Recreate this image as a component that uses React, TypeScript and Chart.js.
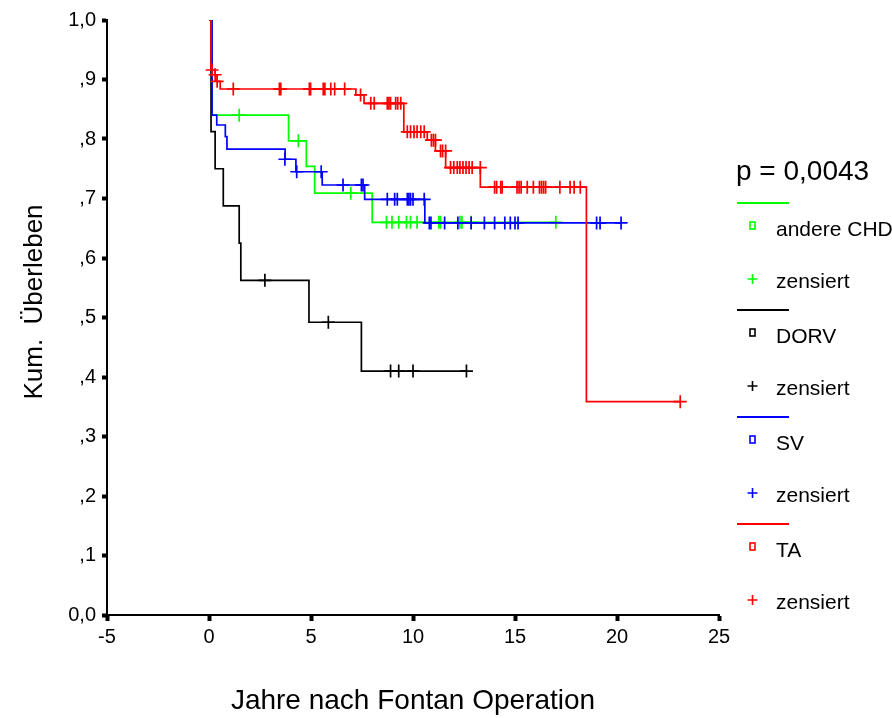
import React, { useEffect, useRef } from 'react';
import { Chart, registerables } from 'chart.js';

Chart.register(...registerables);

const FONT = 'Arial, "Liberation Sans", Helvetica, sans-serif';

// Axis ticks
const xMin = -5;
const xMax = 25;
const xStep = 5;
const yTickLabels = ['0,0', ',1', ',2', ',3', ',4', ',5', ',6', ',7', ',8', ',9', '1,0'];

// Legend / titles
const groupNames = ['andere CHD', 'DORV', 'SV', 'TA'];
const groupColors = ['#00ff00', '#000000', '#0000ff', '#ff0000'];
const censorLabel = 'zensiert';
const pValueText = 'p = 0,0043';
const xTitle = 'Jahre nach Fontan Operation';
const yTitle = 'Kum.  Überleben';

// andere CHD (green)
const chdTimes = [0, 0.15, 3.9, 4.77, 5.18, 8.0, 17.0];
const chdSurvival = [1.0, 0.84, 0.797, 0.754, 0.709, 0.66, 0.66];
const chdCensorTimes = [1.48, 4.38, 6.95, 8.7, 8.97, 9.3, 9.68, 9.88, 10.2, 11.27, 11.35, 12.3, 12.4, 12.85, 17.0];
const chdCensorSurvival = [0.84, 0.797, 0.709, 0.66, 0.66, 0.66, 0.66, 0.66, 0.66, 0.66, 0.66, 0.66, 0.66, 0.66, 0.66];

// DORV (black)
const dorvTimes = [0, 0.1, 0.3, 0.7, 1.48, 1.56, 4.9, 7.47, 12.62];
const dorvSurvival = [1.0, 0.8125, 0.75, 0.6875, 0.625, 0.5625, 0.492, 0.41, 0.41];
const dorvCensorTimes = [2.74, 5.85, 8.9, 9.3, 10.0, 12.62];
const dorvCensorSurvival = [0.5625, 0.492, 0.41, 0.41, 0.41, 0.41];

// SV (blue)
const svTimes = [0, 0.15, 0.38, 0.8, 0.88, 3.73, 4.26, 5.55, 7.63, 10.58, 20.2];
const svSurvival = [1.0, 0.84, 0.8235, 0.804, 0.783, 0.766, 0.745, 0.7227, 0.6986, 0.659, 0.659];
const svCensorTimes = [3.72, 4.3, 5.5, 6.57, 7.47, 7.55, 8.74, 9.1, 9.23, 9.72, 9.8, 9.88, 10.0, 10.55, 10.8, 10.88, 11.55, 12.2, 12.85, 13.5, 14.0, 14.5, 14.77, 15.0, 15.15, 19.0, 19.17, 20.2];
const svCensorSurvival = [0.766, 0.745, 0.745, 0.7227, 0.7227, 0.7227, 0.6986, 0.6986, 0.6986, 0.6986, 0.6986, 0.6986, 0.6986, 0.6986, 0.659, 0.659, 0.659, 0.659, 0.659, 0.659, 0.659, 0.659, 0.659, 0.659, 0.659, 0.659, 0.659, 0.659];

// TA (red)
const taTimes = [0, 0.1, 0.3, 0.4, 0.55, 7.2, 7.6, 9.55, 10.7, 11.1, 11.6, 13.3, 18.5, 23.1];
const taSurvival = [1.0, 0.916, 0.908, 0.897, 0.884, 0.874, 0.86, 0.812, 0.798, 0.78, 0.752, 0.719, 0.3585, 0.3585];
const taCensorTimes = [0.15, 0.3, 0.4, 1.19, 3.45, 3.52, 4.92, 4.98, 5.6, 5.68, 5.97, 6.16, 6.65, 7.43, 7.93, 8.1, 8.74, 8.82, 8.9, 9.15, 9.25, 9.4, 9.72, 9.88, 10.05, 10.2, 10.38, 10.55, 10.9, 11.0, 11.1, 11.35, 11.45, 11.6, 11.84, 12.0, 12.17, 12.3, 12.45, 12.6, 12.75, 12.9, 13.3, 14.0, 14.1, 14.3, 14.37, 15.1, 15.2, 15.3, 15.6, 15.9, 16.2, 16.3, 16.4, 16.5, 17.2, 17.7, 17.9, 18.2, 23.1];
const taCensorSurvival = [0.916, 0.908, 0.897, 0.884, 0.884, 0.884, 0.884, 0.884, 0.884, 0.884, 0.884, 0.884, 0.884, 0.874, 0.86, 0.86, 0.86, 0.86, 0.86, 0.86, 0.86, 0.86, 0.812, 0.812, 0.812, 0.812, 0.812, 0.812, 0.798, 0.798, 0.798, 0.78, 0.78, 0.78, 0.752, 0.752, 0.752, 0.752, 0.752, 0.752, 0.752, 0.752, 0.752, 0.719, 0.719, 0.719, 0.719, 0.719, 0.719, 0.719, 0.719, 0.719, 0.719, 0.719, 0.719, 0.719, 0.719, 0.719, 0.719, 0.719, 0.3585];

const toPoints = (xs: number[], ys: number[]) => xs.map((x, i) => ({ x, y: ys[i] }));

const seriesTimes = [chdTimes, dorvTimes, svTimes, taTimes];
const seriesSurvival = [chdSurvival, dorvSurvival, svSurvival, taSurvival];
const seriesCensorTimes = [chdCensorTimes, dorvCensorTimes, svCensorTimes, taCensorTimes];
const seriesCensorSurvival = [chdCensorSurvival, dorvCensorSurvival, svCensorSurvival, taCensorSurvival];
const drawOrder = [4, 3, 2, 1];

const kmDecorPlugin = {
  id: 'kmDecor',
  afterDraw(chart: any) {
    const ctx = chart.ctx as CanvasRenderingContext2D;
    ctx.save();
    // y axis title
    ctx.fillStyle = '#000';
    ctx.font = `26px ${FONT}`;
    ctx.textAlign = 'center';
    ctx.textBaseline = 'alphabetic';
    ctx.translate(42, 302);
    ctx.rotate(-Math.PI / 2);
    ctx.fillText(yTitle, 0, 0);
    ctx.restore();

    ctx.save();
    ctx.fillStyle = '#000';
    ctx.textAlign = 'left';
    ctx.font = `28px ${FONT}`;
    ctx.textBaseline = 'alphabetic';
    ctx.fillText(pValueText, 736, 180);
    groupNames.forEach((name, i) => {
      const y0 = 203 + i * 107;
      const c = groupColors[i];
      ctx.strokeStyle = c;
      ctx.lineWidth = 2;
      ctx.beginPath();
      ctx.moveTo(737, y0);
      ctx.lineTo(789, y0);
      ctx.stroke();
      ctx.lineWidth = 1.6;
      ctx.strokeRect(750, y0 + 19, 5, 7);
      ctx.beginPath();
      ctx.moveTo(752.5, y0 + 71);
      ctx.lineTo(752.5, y0 + 81);
      ctx.moveTo(747.5, y0 + 76);
      ctx.lineTo(757.5, y0 + 76);
      ctx.stroke();
      ctx.fillStyle = '#000';
      ctx.font = `21px ${FONT}`;
      ctx.textBaseline = 'middle';
      ctx.fillText(name, 776, y0 + 27);
      ctx.fillText(censorLabel, 776, y0 + 79);
    });
    ctx.restore();
  },
};

export default function App() {
  const canvasRef = useRef<HTMLCanvasElement | null>(null);

  useEffect(() => {
    if (!canvasRef.current) return;
    const datasets: any[] = [];
    groupNames.forEach((name, i) => {
      datasets.push({
        label: name,
        data: toPoints(seriesTimes[i], seriesSurvival[i]),
        showLine: true,
        stepped: 'before',
        borderColor: groupColors[i],
        backgroundColor: groupColors[i],
        borderWidth: 1.7,
        pointRadius: 0,
        fill: false,
        order: drawOrder[i],
      });
      datasets.push({
        label: name + ' ' + censorLabel,
        data: toPoints(seriesCensorTimes[i], seriesCensorSurvival[i]),
        showLine: false,
        pointStyle: 'cross',
        pointRadius: 6.5,
        pointBorderWidth: 1.7,
        borderColor: groupColors[i],
        backgroundColor: groupColors[i],
        order: drawOrder[i],
      });
    });

    const chart = new Chart(canvasRef.current, {
      type: 'scatter',
      data: { datasets },
      plugins: [kmDecorPlugin],
      options: {
        responsive: false,
        animation: false,
        devicePixelRatio: 1,
        layout: { padding: { left: 0, right: 173, top: 20, bottom: 0 } },
        plugins: { legend: { display: false }, tooltip: { enabled: false } },
        scales: {
          x: {
            type: 'linear',
            min: xMin,
            max: xMax,
            afterFit: (scale: any) => { scale.height = 103; },
            ticks: {
              stepSize: xStep,
              autoSkip: false,
              maxRotation: 0,
              padding: 4,
              color: '#000',
              font: { family: FONT, size: 20 },
            },
            grid: { display: true, drawOnChartArea: false, tickLength: 6, tickWidth: 4, tickColor: '#000' },
            border: { display: true, color: '#000', width: 2 },
            title: {
              display: true,
              text: xTitle,
              color: '#000',
              font: { family: FONT, size: 28 },
              padding: { top: 0, bottom: 0 },
            },
          },
          y: {
            type: 'linear',
            min: 0,
            max: 1,
            afterFit: (scale: any) => { scale.width = 107; },
            ticks: {
              stepSize: 0.1,
              autoSkip: false,
              padding: 6,
              color: '#000',
              font: { family: FONT, size: 20 },
              callback: (_v: any, idx: number) => yTickLabels[idx],
            },
            grid: { display: true, drawOnChartArea: false, tickLength: 5, tickWidth: 4, tickColor: '#000' },
            border: { display: true, color: '#000', width: 2 },
          },
        },
      },
    } as any);
    return () => chart.destroy();
  }, []);

  return (
    <div style={{ position: 'absolute', left: 0, top: 0, width: 892, height: 718, background: '#fff' }}>
      <canvas ref={canvasRef} width={892} height={718} />
    </div>
  );
}
